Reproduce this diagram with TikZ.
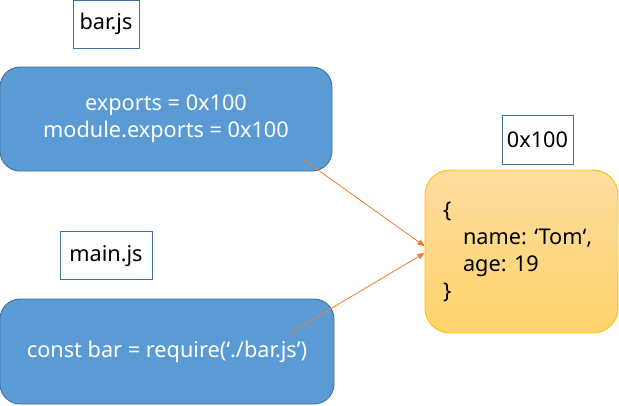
\documentclass[tikz,border=0pt]{standalone}
\usepackage{fontspec}
\setmainfont{Noto Sans}
\usepackage{xcolor}
\usepackage{tikz}
\usetikzlibrary{arrows.meta,positioning}

\definecolor{boxblue}{HTML}{5B9BD5}
\definecolor{edgeblue}{HTML}{41719C}
\definecolor{linkorange}{HTML}{ED7D31}
\definecolor{objtop}{HTML}{FEDD9E}
\definecolor{objbot}{HTML}{FFD36C}
\definecolor{objedge}{HTML}{FFC000}

\begin{document}
\begin{tikzpicture}[x=1pt,y=-1pt,font=\fontsize{21.7}{27}\selectfont]
        \tikzstyle{module} = [draw=edgeblue, line width=0.9pt, fill=boxblue, rounded corners=20pt, text=white, align=center, inner sep=0pt]
        \tikzstyle{tag} = [draw=edgeblue, line width=0.8pt, fill=white, text=black, inner sep=0pt, minimum height=48pt]
        \tikzstyle{object} = [draw=objedge, line width=0.9pt, top color=objtop, bottom color=objbot, rounded corners=25pt, align=flush left, inner xsep=18pt, inner ysep=0pt, text width=157pt, minimum width=193pt, minimum height=163pt]
        \tikzstyle{link} = [draw=linkorange, line width=0.8pt, -{Triangle[width=6pt,length=7pt]}]
        \useasboundingbox (0,0) rectangle (619,405);

        \node[module, minimum width=332pt, minimum height=104pt] (bar) at (166,119) {exports = 0x100\\module.exports = 0x100};
        \node[module, minimum width=334pt, minimum height=105pt] (main) at (167,351.5) {const bar = require(‘./bar.js’)};
        \node[object] (obj) at (521.5,251.5) {\{\\\hspace*{20pt}name: ‘Tom‘,\\\hspace*{20pt}age: 19\\\}};

        \node[tag, minimum width=66pt] (barname) at (106,24) {bar.js};
        \node[tag, minimum width=92pt, below = 183pt of barname] (mainname) {main.js};
        \node[tag, minimum width=71pt, minimum height=49pt, above = 5pt of obj.north, xshift=16pt] (addr) {0x100};

        \coordinate (barref) at (304,160);
        \coordinate (mainref) at (290,333);

        \draw[link] (barref) -- ([yshift=5.5pt]obj.west);
        \draw[link] (mainref) -- ([yshift=-1.5pt]obj.west);
\end{tikzpicture}
\end{document}
